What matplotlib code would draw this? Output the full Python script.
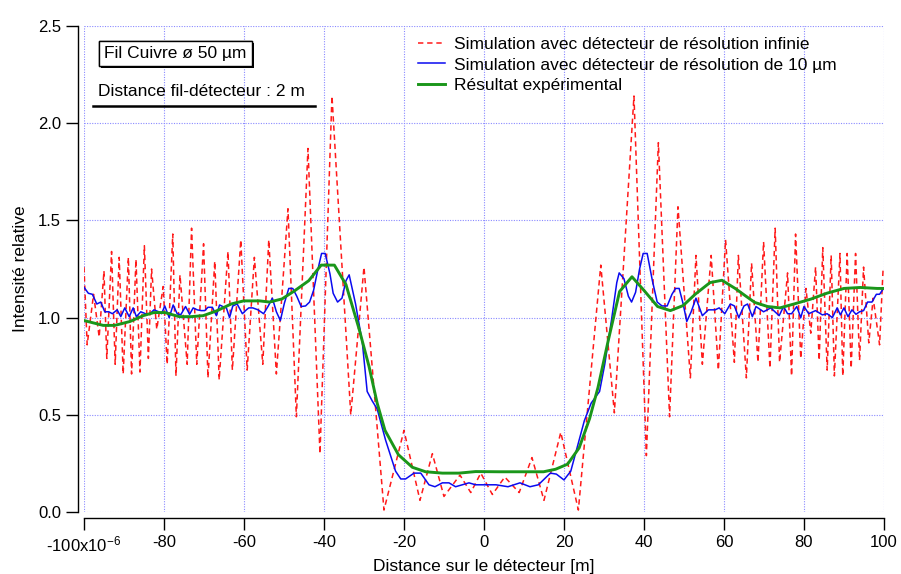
# importing libraries
import matplotlib
matplotlib.use("Agg")
import matplotlib.pyplot as plt
import matplotlib.patheffects as pe
from matplotlib.ticker import FixedLocator, FuncFormatter

plt.rcParams["font.family"] = ["Liberation Sans", "DejaVu Sans"]
plt.rcParams["mathtext.default"] = "regular"

# Simulation, infinite resolution detector (position in micrometres, relative intensity)
x_infinite = [
    -100, -99.2, -97.6, -96.2, -95.0, -94.3, -93.1, -92.2, -91.2, -90.2,
    -88.9, -88.1, -87.0, -86.0, -84.9, -83.9, -83.1, -81.8, -80.2, -79.2,
    -77.8, -77.0, -76.0, -74.2, -73.1, -71.8, -70.1, -69.0, -67.3, -66.2,
    -64.0, -62.9, -60.8, -59.2, -57.4, -55.3, -53.8, -51.9, -49.0, -46.9,
    -44.0, -41.0, -38.0, -33.3, -30.0, -25.0, -20.0, -16.0, -12.9, -10.0,
    -6.0, -3.3, -0.8, 2.1, 5.2, 8.8, 12.0, 15.0, 19.2, 23.6,
    29.2, 32.6, 37.5, 40.6, 43.6, 46.4, 48.5, 51.6, 53.0, 54.6,
    56.8, 58.6, 60.4, 62.6, 63.6, 65.6, 66.9, 68.5, 69.9, 71.5,
    72.8, 73.9, 75.9, 76.9, 77.9, 79.2, 80.5, 81.7, 82.9, 83.8,
    84.7, 85.8, 86.8, 87.6, 89.0, 89.7, 90.8, 91.8, 92.9, 93.9,
    94.9, 96.2, 97.3, 98.9, 99.8,
]
y_infinite = [
    1.26, 0.86, 1.12, 0.90, 1.24, 0.79, 1.34, 0.76, 1.31, 0.71,
    1.31, 0.71, 1.30, 0.72, 1.37, 0.79, 1.25, 0.94, 1.16, 0.76,
    1.43, 0.70, 1.22, 0.76, 1.46, 0.76, 1.38, 0.69, 1.29, 0.68,
    1.34, 0.73, 1.40, 0.73, 1.31, 0.76, 1.40, 0.71, 1.56, 0.49,
    1.87, 0.30, 2.14, 0.50, 1.26, 0.01, 0.42, 0.06, 0.30, 0.08,
    0.19, 0.10, 0.20, 0.09, 0.18, 0.10, 0.28, 0.06, 0.41, 0.01,
    1.27, 0.51, 2.14, 0.29, 1.90, 0.49, 1.57, 0.69, 1.32, 0.76,
    1.32, 0.73, 1.40, 0.77, 1.32, 0.69, 1.28, 0.77, 1.39, 0.74,
    1.46, 0.77, 1.23, 0.70, 1.43, 0.79, 1.15, 0.92, 1.26, 0.78,
    1.36, 0.73, 1.32, 0.70, 1.33, 0.70, 1.33, 0.74, 1.33, 0.78,
    1.26, 0.87, 1.10, 0.86, 1.26,
]

# Simulation, 10 um resolution detector
x_10um = [
    -100, -98.9, -97.9, -96.8, -95.8, -94.8, -93.8, -92.9, -91.7, -90.8,
    -89.8, -88.7, -87.7, -86.9, -85.8, -84.6, -83.5, -82.5, -81.3, -80.6,
    -79.8, -78.7, -77.7, -76.7, -75.8, -74.6, -73.6, -72.7, -71.7, -70.7,
    -69.8, -69.0, -67.9, -66.9, -66.1, -65.3, -64.4, -63.6, -62.8, -61.7,
    -60.4, -59.4, -58.8, -57.8, -56.5, -55.1, -54.0, -52.9, -51.9, -50.9,
    -49.9, -48.8, -47.8, -46.8, -45.7, -44.6, -43.6, -42.6, -41.6, -40.6,
    -39.7, -38.5, -37.7, -36.6, -35.5, -34.5, -33.7, -32.1, -30.4, -29.2,
    -27.9, -26.7, -24.6, -22.1, -20.8, -19.6, -17.5, -15.8, -13.75, -12.25,
    -10.4, -8.75, -7.1, -5.4, -3.75, -2.1, 0.0, 3.0, 6.0, 9.0,
    11.5, 13.6, 16.6, 18.1, 20.0, 21.7, 23.4, 25.1, 26.8, 28.9,
    30.2, 31.9, 33.2, 33.8, 35.0, 36.1, 36.9, 37.9, 38.9, 39.8,
    40.8, 42.1, 43.3, 44.5, 45.8, 47.0, 47.9, 48.8, 49.8, 50.7,
    51.8, 53.0, 54.6, 56.1, 57.8, 58.8, 60.2, 61.6, 62.6, 63.7,
    65.0, 65.9, 67.1, 68.0, 69.9, 71.7, 73.8, 74.9, 75.9, 76.9,
    78.2, 79.2, 80.0, 81.2, 82.9, 84.6, 85.8, 87.1, 88.3, 89.1,
    90.0, 91.0, 92.0, 93.0, 93.9, 94.9, 95.9, 97.0, 98.1, 98.9,
    99.9,
]
y_10um = [
    1.156, 1.125, 1.12, 1.07, 1.08, 1.03, 1.03, 1.02, 1.04, 1.005,
    1.05, 1.005, 1.05, 1.005, 1.03, 1.02, 1.02, 1.04, 1.03, 1.02,
    1.06, 1.00, 1.065, 1.02, 1.015, 1.057, 1.017, 1.05, 1.04, 1.036,
    1.036, 1.053, 1.053, 1.01, 1.065, 1.057, 1.05, 1.00, 1.06, 1.07,
    1.02, 1.04, 1.05, 1.05, 1.04, 1.02, 1.057, 1.10, 1.03, 0.985,
    1.074, 1.15, 1.15, 1.11, 1.057, 1.06, 1.08, 1.14, 1.24, 1.33,
    1.33, 1.225, 1.125, 1.08, 1.10, 1.19, 1.22, 1.07, 0.87, 0.62,
    0.57, 0.53, 0.37, 0.21, 0.17, 0.17, 0.20, 0.20, 0.14, 0.13,
    0.15, 0.15, 0.13, 0.14, 0.15, 0.14, 0.14, 0.14, 0.13, 0.15,
    0.13, 0.14, 0.20, 0.195, 0.165, 0.21, 0.34, 0.47, 0.56, 0.62,
    0.76, 0.99, 1.18, 1.23, 1.20, 1.11, 1.08, 1.13, 1.25, 1.33,
    1.33, 1.19, 1.08, 1.06, 1.06, 1.12, 1.15, 1.15, 1.07, 0.98,
    1.03, 1.10, 1.01, 1.04, 1.04, 1.05, 1.02, 1.07, 1.06, 1.00,
    1.06, 1.07, 1.005, 1.057, 1.03, 1.05, 1.01, 1.057, 1.02, 1.02,
    1.057, 1.00, 1.057, 1.02, 1.036, 1.014, 1.02, 1.00, 1.05, 1.014,
    1.05, 1.005, 1.04, 1.017, 1.03, 1.036, 1.08, 1.08, 1.12, 1.12,
    1.15,
]

# Experimental result
x_exp = [
    -100, -95.2, -92.3, -88.5, -85.2, -82.5, -79.8, -76.2, -73.2, -70.2,
    -66.9, -63.2, -60.1, -56.1, -53.6, -50.5, -47.4, -43.8, -40.7, -37.4,
    -34.5, -31.2, -28.75, -26.7, -24.75, -21.4, -17.9, -14.6, -10.4, -6.25,
    -2.1, 3.8, 7.7, 11.5, 14.9, 17.9, 20.9, 23.8, 26.4, 28.5,
    31.1, 33.9, 37.0, 40.0, 43.4, 46.6, 49.8, 52.8, 56.5, 59.5,
    62.8, 65.5, 67.7, 70.9, 74.0, 77.5, 81.7, 85.8, 90.0, 94.1,
    98.3, 100,
]
y_exp = [
    0.985, 0.96, 0.96, 0.98, 1.01, 1.026, 1.026, 1.005, 1.005, 1.01,
    1.034, 1.07, 1.086, 1.086, 1.08, 1.096, 1.137, 1.19, 1.27, 1.27,
    1.17, 0.94, 0.75, 0.56, 0.42, 0.295, 0.23, 0.207, 0.20, 0.20,
    0.208, 0.207, 0.207, 0.207, 0.207, 0.22, 0.246, 0.33, 0.48, 0.64,
    0.885, 1.134, 1.21, 1.14, 1.057, 1.036, 1.062, 1.12, 1.18, 1.192,
    1.15, 1.11, 1.078, 1.057, 1.05, 1.07, 1.095, 1.126, 1.15, 1.155,
    1.15, 1.15,
]

x_ticks = [-100, -80, -60, -40, -20, 0, 20, 40, 60, 80, 100]
y_ticks = [0.0, 0.5, 1.0, 1.5, 2.0, 2.5]

label_infinite = "Simulation avec détecteur de résolution infinie"
label_10um = "Simulation avec détecteur de résolution de 10 µm"
label_exp = "Résultat expérimental"

# Figure
fig = plt.figure(figsize=(9.01, 5.74), dpi=100)
ax = fig.add_axes([0.0932, 0.108, 0.8879, 0.8467])

ax.plot(x_infinite, y_infinite, color="#ff1a1a", lw=1.1, dashes=(3.5, 2.5),
        label=label_infinite)
ax.plot(x_10um, y_10um, color="#0a0af0", lw=1.1, label=label_10um)
ax.plot(x_exp, y_exp, color="#1a961a", lw=2.1, label=label_exp)

ax.set_xlim(-100, 100)
ax.set_ylim(0, 2.5)

# Axes in the Igor style: left/bottom only, shifted outward
for side in ["top", "right"]:
    ax.spines[side].set_visible(False)
for side in ["left", "bottom"]:
    ax.spines[side].set_position(("outward", 4))
    ax.spines[side].set_linewidth(1.0)

ax.xaxis.set_major_locator(FixedLocator(x_ticks))
ax.yaxis.set_major_locator(FixedLocator(y_ticks))


def x_label_fmt(v, pos):
    if v == -100:
        return "-100x10$^{-6}$"
    return "%d" % v


ax.xaxis.set_major_formatter(FuncFormatter(x_label_fmt))
ax.yaxis.set_major_formatter(FuncFormatter(lambda v, pos: "%.1f" % v))
ax.tick_params(direction="out", length=8.5, width=1.0, labelsize=12, pad=4)

ax.grid(True, color="#8a8aff", linestyle=(0, (1, 1.3)), linewidth=0.8)
ax.set_axisbelow(True)

ax.set_xlabel("Distance sur le détecteur [m]", fontsize=12.5, labelpad=3)
ax.set_ylabel("Intensité relative", fontsize=12.5, labelpad=7)

# Legend without frame
ax.legend(loc="upper left", bbox_to_anchor=(0.4175, 0.978), frameon=False,
          fontsize=12.5, handlelength=1.55, handletextpad=0.55,
          labelspacing=0.32, borderpad=0, borderaxespad=0)

# Annotations
t = ax.text(0.025, 0.944, "Fil Cuivre ø 50 µm", transform=ax.transAxes,
            fontsize=12.5, va="center", ha="left",
            bbox=dict(boxstyle="square,pad=0.3", fc="white", ec="black", lw=1.0))
t.get_bbox_patch().set_path_effects(
    [pe.withSimplePatchShadow(offset=(1.6, -1.6), shadow_rgbFace="black", alpha=1.0),
     pe.Normal()])

ax.text(0.0175, 0.866, "Distance fil-détecteur : 2 m", transform=ax.transAxes,
        fontsize=12.5, va="center", ha="left")
ax.plot([0.011, 0.289], [0.835, 0.835], transform=ax.transAxes, color="black",
        lw=1.8, clip_on=False)

fig.savefig("out.png", dpi=100)
